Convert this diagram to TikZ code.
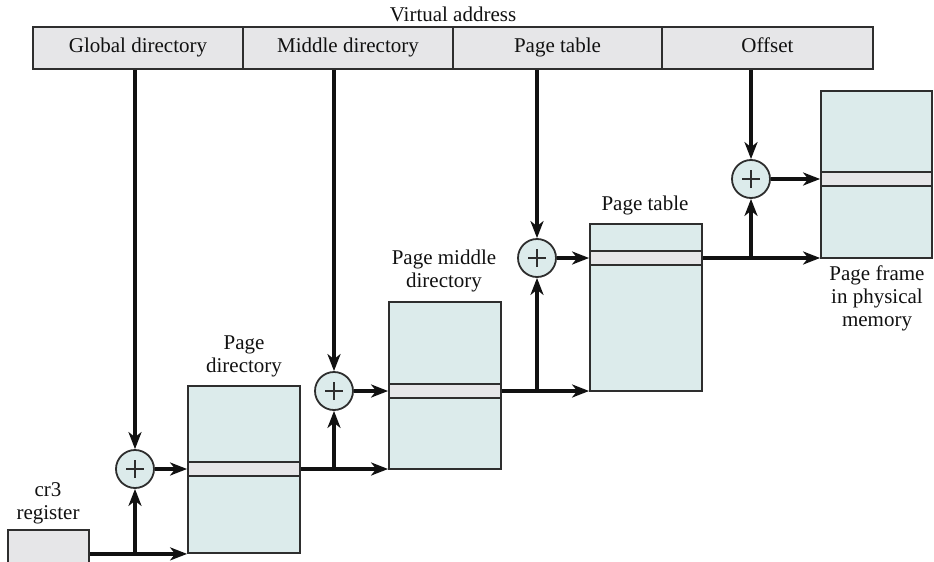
\documentclass[tikz,border=0pt]{standalone}
\usepackage{fontspec}
\setmainfont{Liberation Serif}
\usetikzlibrary{arrows.meta}
\definecolor{boxfill}{HTML}{DCEBEB}
\definecolor{slotfill}{HTML}{E6E6E8}
\definecolor{edgec}{HTML}{2E2E2E}
\definecolor{wirec}{HTML}{111111}
\definecolor{textc}{HTML}{111111}
\begin{document}
\begin{tikzpicture}[x=1pt,y=-1pt,
  font=\fontsize{21}{23}\selectfont,
  cell/.style={draw=edgec, line width=1.8pt, fill=slotfill, minimum height=42pt, inner sep=0pt, text=textc, text height=14pt, text depth=5pt},
  mem/.style={draw=edgec, line width=1.8pt, fill=boxfill, inner sep=0pt, minimum width=112pt, minimum height=167pt},
  slotbox/.style={draw=edgec, line width=1.8pt, fill=slotfill, inner sep=0pt, minimum width=112pt, minimum height=14pt},
  adder/.style={circle, draw=edgec, line width=1.8pt, fill=boxfill, minimum size=38pt, inner sep=0pt,
    path picture={\draw[edgec, line width=1.5pt]
      ([xshift=-9pt]path picture bounding box.center) -- ([xshift=9pt]path picture bounding box.center)
      ([yshift=-9pt]path picture bounding box.center) -- ([yshift=9pt]path picture bounding box.center);}},
  conn/.style={draw=wirec, line width=3.3pt, -{Stealth[length=17pt,width=13pt,inset=5pt]}},
  lbl/.style={align=center, text=textc, inner sep=0pt}]
\useasboundingbox (0,0) rectangle (934,562);
% virtual address bar
\node[lbl] (va) at (453,14) {Virtual address};
\node[cell, minimum width=210pt] (gd) at (138,48) {Global directory};
\node[cell, minimum width=210pt] (md) at (348,48) {Middle directory};
\node[cell, minimum width=209pt] (ptf) at (557.5,48) {Page table};
\node[cell, minimum width=211pt] (of) at (767.5,48) {Offset};
% memory boxes
\node[draw=edgec, line width=1.8pt, fill=slotfill, minimum width=81pt, minimum height=36pt, inner sep=0pt] (cr3) at (48.5,548) {};
\node[mem] (pd) at (244,469.5) {};
\node[mem] (pmd) at (445,385.5) {};
\node[mem] (pt) at (646,307.5) {};
\node[mem, minimum width=111pt] (pf) at (876.5,174.5) {};
\node[slotbox] (pds) at (244,469) {};
\node[slotbox] (pms) at (445,391) {};
\node[slotbox] (pts) at (646,258) {};
\node[slotbox, minimum width=111pt] (pfs) at (876.5,179) {};
% labels
\node[lbl] (cr3l) at (48,503) {cr3\\register};
\node[lbl] (pdl) at (244,356) {Page\\directory};
\node[lbl] (pmdl) at (444,271) {Page middle\\directory};
\node[lbl] (ptl) at (645,205) {Page table};
\node[lbl] (pfl) at (877,298) {Page frame\\in physical\\memory};
% adders
\node[adder] (p1) at (135,469) {};
\node[adder] (p2) at (334,391) {};
\node[adder] (p3) at (537,258) {};
\node[adder] (p4) at (751,179) {};
% connectors from the virtual address
\draw[conn] (gd.south -| p1) -- (p1);
\draw[conn] (md.south -| p2) -- (p2);
\draw[conn] (ptf.south -| p3) -- (p3);
\draw[conn] (of.south -| p4) -- (p4);
% adders into slots
\draw[conn] (p1) -- (pds.west);
\draw[conn] (p2) -- (pms.west);
\draw[conn] (p3) -- (pts.west);
\draw[conn] (p4) -- (pfs.west);
% base addresses
\draw[conn] (cr3.east |- pd.south west) -- (pd.south west);
\draw[conn] (p1 |- pd.south west) -- (p1);
\draw[conn] (pds.east) -- (pds.east -| pmd.west);
\draw[conn] (p2 |- pds.east) -- (p2);
\draw[conn] (pms.east) -- (pms.east -| pt.west);
\draw[conn] (p3 |- pms.east) -- (p3);
\draw[conn] (pts.east) -- (pts.east -| pf.west);
\draw[conn] (p4 |- pts.east) -- (p4);
\end{tikzpicture}
\end{document}
